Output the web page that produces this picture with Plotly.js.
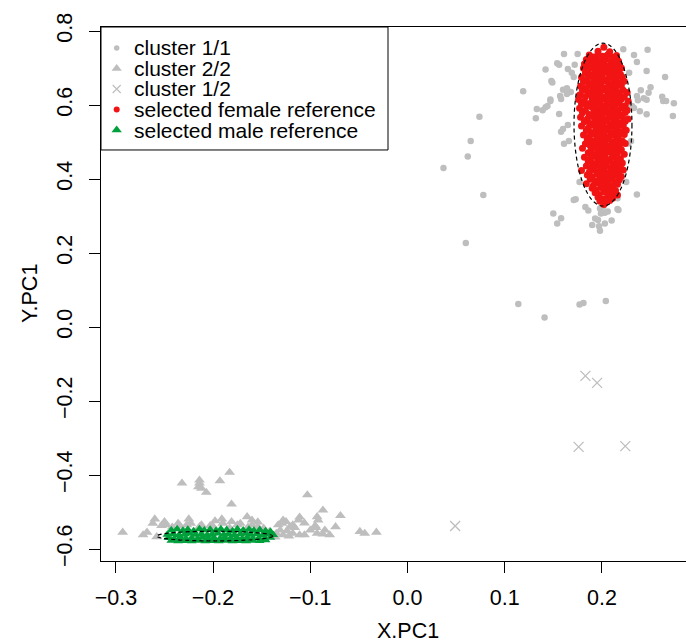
<!DOCTYPE html>
<html>
<head>
<meta charset="utf-8">
<script src="https://cdn.plot.ly/plotly-3.0.1.min.js"></script>
<style>
  html, body { margin: 0; padding: 0; overflow: hidden; background: #fff; width: 686px; height: 644px; }
  #plot { width: 714px; height: 644px; }
</style>
</head>
<body>
<div id="plot"></div>
<script>
// ---- data: first principal components of X and Y ----
const cluster11X = [0.037, 0.065, 0.062, 0.074, 0.078, 0.060, 0.114, 0.141, 0.177, 0.181,
  0.204, 0.119, 0.125, 0.150, 0.158, 0.154, 0.171, 0.173, 0.177, 0.161,
  0.166, 0.160, 0.158, 0.165, 0.156, 0.133, 0.132, 0.139, 0.142, 0.144,
  0.147, 0.147, 0.157, 0.158, 0.160, 0.164, 0.168, 0.164, 0.148, 0.149,
  0.142, 0.154, 0.156, 0.161, 0.175, 0.165, 0.169, 0.171, 0.172, 0.222,
  0.247, 0.233, 0.236, 0.246, 0.228, 0.265, 0.240, 0.250, 0.248, 0.243,
  0.246, 0.236, 0.237, 0.262, 0.263, 0.266, 0.274, 0.231, 0.233, 0.239,
  0.246, 0.273, 0.230, 0.227, 0.236, 0.225, 0.216, 0.183, 0.186, 0.190,
  0.197, 0.198, 0.193, 0.196, 0.199, 0.198, 0.201, 0.203, 0.206, 0.203,
  0.210, 0.216, 0.217];
const cluster11Y = [0.430, 0.503, 0.461, 0.568, 0.357, 0.227, 0.062, 0.026, 0.061, 0.065,
  0.070, 0.637, 0.500, 0.307, 0.294, 0.280, 0.343, 0.345, 0.392, 0.495,
  0.503, 0.535, 0.528, 0.546, 0.576, 0.589, 0.564, 0.586, 0.594, 0.597,
  0.615, 0.611, 0.624, 0.616, 0.641, 0.645, 0.635, 0.630, 0.665, 0.661,
  0.696, 0.713, 0.709, 0.738, 0.738, 0.697, 0.687, 0.676, 0.709, 0.751,
  0.749, 0.735, 0.716, 0.692, 0.687, 0.676, 0.640, 0.648, 0.633, 0.618,
  0.614, 0.624, 0.613, 0.622, 0.611, 0.611, 0.605, 0.597, 0.592, 0.583,
  0.575, 0.570, 0.503, 0.496, 0.358, 0.392, 0.348, 0.324, 0.315, 0.276,
  0.272, 0.260, 0.293, 0.289, 0.307, 0.320, 0.325, 0.309, 0.312, 0.280,
  0.288, 0.319, 0.316];

const cluster22X = [-0.293, -0.272, -0.268, -0.260, -0.262, -0.250, -0.248, -0.253, -0.258, -0.232,
  -0.214, -0.214, -0.215, -0.212, -0.207, -0.193, -0.183, -0.181, -0.236, -0.234,
  -0.225, -0.223, -0.227, -0.212, -0.214, -0.203, -0.200, -0.191, -0.190, -0.181,
  -0.175, -0.172, -0.165, -0.160, -0.160, -0.154, -0.148, -0.142, -0.103, -0.087,
  -0.069, -0.093, -0.092, -0.111, -0.112, -0.128, -0.125, -0.129, -0.133, -0.118,
  -0.116, -0.121, -0.074, -0.095, -0.094, -0.131, -0.124, -0.135, -0.118, -0.128,
  -0.111, -0.106, -0.093, -0.087, -0.080, -0.049, -0.044, -0.032, -0.142, -0.100,
  -0.085, -0.106, -0.122, -0.136, -0.147, -0.242, -0.183, -0.164, -0.154, -0.198];
const cluster22Y = [-0.555, -0.562, -0.555, -0.519, -0.531, -0.526, -0.535, -0.537, -0.567, -0.422,
  -0.414, -0.422, -0.432, -0.436, -0.447, -0.416, -0.393, -0.479, -0.531, -0.538,
  -0.519, -0.531, -0.535, -0.535, -0.540, -0.537, -0.539, -0.519, -0.531, -0.526,
  -0.535, -0.531, -0.513, -0.535, -0.522, -0.540, -0.544, -0.553, -0.454, -0.495,
  -0.510, -0.513, -0.522, -0.514, -0.522, -0.522, -0.526, -0.531, -0.535, -0.535,
  -0.542, -0.540, -0.540, -0.537, -0.542, -0.549, -0.551, -0.558, -0.558, -0.562,
  -0.562, -0.562, -0.558, -0.560, -0.562, -0.553, -0.558, -0.555, -0.565, -0.549,
  -0.549, -0.530, -0.565, -0.568, -0.549, -0.541, -0.543, -0.541, -0.527, -0.524];

const cluster12X = [0.049, 0.183, 0.195, 0.176, 0.224];
const cluster12Y = [-0.538, -0.132, -0.151, -0.324, -0.322];

const femaleX = [
  0.202, 0.196, 0.208,
  0.187, 0.191, 0.196, 0.201, 0.206, 0.211, 0.215,
  0.184, 0.189, 0.194, 0.199, 0.204, 0.209, 0.213, 0.217,
  0.182, 0.187, 0.192, 0.197, 0.202, 0.207, 0.212, 0.218,
  0.181, 0.186, 0.191, 0.196, 0.201, 0.206, 0.211, 0.216, 0.220,
  0.183, 0.188, 0.193, 0.198, 0.203, 0.208, 0.213, 0.219,
  0.179, 0.185, 0.190, 0.195, 0.200, 0.205, 0.210, 0.215, 0.221,
  0.181, 0.187, 0.192, 0.197, 0.202, 0.207, 0.212, 0.218, 0.223,
  0.178, 0.184, 0.189, 0.194, 0.199, 0.204, 0.209, 0.214, 0.220,
  0.180, 0.186, 0.191, 0.196, 0.201, 0.206, 0.211, 0.216, 0.222, 0.226,
  0.177, 0.183, 0.188, 0.193, 0.198, 0.203, 0.208, 0.213, 0.218, 0.223,
  0.176, 0.182, 0.190, 0.195, 0.200, 0.205, 0.210, 0.215, 0.220, 0.227,
  0.179, 0.185, 0.188, 0.193, 0.198, 0.203, 0.208, 0.213, 0.218, 0.224,
  0.177, 0.183, 0.190, 0.195, 0.200, 0.205, 0.210, 0.216, 0.221, 0.226,
  0.180, 0.187, 0.192, 0.197, 0.202, 0.207, 0.212, 0.218, 0.224,
  0.178, 0.185, 0.190, 0.195, 0.200, 0.205, 0.210, 0.215, 0.221, 0.227,
  0.182, 0.188, 0.193, 0.198, 0.203, 0.208, 0.213, 0.219, 0.224,
  0.179, 0.186, 0.191, 0.196, 0.201, 0.206, 0.211, 0.216, 0.222,
  0.184, 0.189, 0.194, 0.199, 0.204, 0.209, 0.214, 0.220, 0.225,
  0.181, 0.187, 0.192, 0.197, 0.202, 0.207, 0.212, 0.217, 0.223,
  0.185, 0.190, 0.195, 0.200, 0.205, 0.210, 0.215, 0.221,
  0.183, 0.188, 0.193, 0.198, 0.203, 0.208, 0.213, 0.218, 0.224,
  0.180, 0.189, 0.194, 0.199, 0.204, 0.209, 0.214, 0.220,
  0.186, 0.191, 0.196, 0.201, 0.206, 0.211, 0.216, 0.223,
  0.182, 0.188, 0.193, 0.198, 0.203, 0.208, 0.213, 0.219,
  0.186, 0.191, 0.196, 0.201, 0.206, 0.211, 0.216, 0.221,
  0.184, 0.189, 0.194, 0.199, 0.204, 0.209, 0.214, 0.219,
  0.179, 0.187, 0.192, 0.197, 0.202, 0.207, 0.212, 0.217, 0.222,
  0.185, 0.190, 0.195, 0.200, 0.205, 0.210, 0.215, 0.220,
  0.188, 0.193, 0.198, 0.203, 0.208, 0.213, 0.218,
  0.184, 0.191, 0.196, 0.201, 0.206, 0.211, 0.216,
  0.190, 0.194, 0.199, 0.204, 0.209, 0.214,
  0.193, 0.197, 0.202, 0.207, 0.212, 0.216,
  0.196, 0.201, 0.206, 0.211,
  0.198, 0.203, 0.208,
  0.202];
const femaleY = [
  0.756, 0.745, 0.744,
  0.735, 0.730, 0.737, 0.732, 0.736, 0.729, 0.734,
  0.723, 0.718, 0.725, 0.720, 0.724, 0.717, 0.722, 0.719,
  0.711, 0.706, 0.713, 0.708, 0.712, 0.705, 0.710, 0.707,
  0.699, 0.694, 0.701, 0.696, 0.700, 0.693, 0.698, 0.695, 0.700,
  0.687, 0.682, 0.689, 0.684, 0.688, 0.681, 0.686, 0.683,
  0.675, 0.670, 0.677, 0.672, 0.676, 0.669, 0.674, 0.671, 0.676,
  0.663, 0.658, 0.665, 0.660, 0.664, 0.657, 0.662, 0.659, 0.664,
  0.651, 0.646, 0.653, 0.648, 0.652, 0.645, 0.650, 0.647, 0.652,
  0.639, 0.634, 0.641, 0.636, 0.640, 0.633, 0.638, 0.635, 0.640, 0.634,
  0.627, 0.622, 0.629, 0.624, 0.628, 0.621, 0.626, 0.623, 0.628, 0.622,
  0.615, 0.610, 0.617, 0.612, 0.616, 0.609, 0.614, 0.611, 0.616, 0.610,
  0.603, 0.598, 0.605, 0.600, 0.604, 0.597, 0.602, 0.599, 0.604, 0.598,
  0.591, 0.586, 0.593, 0.588, 0.592, 0.585, 0.590, 0.587, 0.592, 0.586,
  0.579, 0.574, 0.581, 0.576, 0.580, 0.573, 0.578, 0.575, 0.580,
  0.567, 0.562, 0.569, 0.564, 0.568, 0.561, 0.566, 0.563, 0.568, 0.562,
  0.555, 0.550, 0.557, 0.552, 0.556, 0.549, 0.554, 0.551, 0.556,
  0.543, 0.538, 0.545, 0.540, 0.544, 0.537, 0.542, 0.539, 0.544,
  0.531, 0.526, 0.533, 0.528, 0.532, 0.525, 0.530, 0.527, 0.532,
  0.519, 0.514, 0.521, 0.516, 0.520, 0.513, 0.518, 0.515, 0.520,
  0.507, 0.502, 0.509, 0.504, 0.508, 0.501, 0.506, 0.503,
  0.495, 0.490, 0.497, 0.492, 0.496, 0.489, 0.494, 0.491, 0.496,
  0.483, 0.478, 0.485, 0.480, 0.484, 0.477, 0.482, 0.479,
  0.471, 0.466, 0.473, 0.468, 0.472, 0.465, 0.470, 0.467,
  0.459, 0.454, 0.461, 0.456, 0.460, 0.453, 0.458, 0.455,
  0.447, 0.442, 0.449, 0.444, 0.448, 0.441, 0.446, 0.443,
  0.435, 0.430, 0.437, 0.432, 0.436, 0.429, 0.434, 0.431,
  0.423, 0.418, 0.425, 0.420, 0.424, 0.417, 0.422, 0.419, 0.424,
  0.411, 0.406, 0.413, 0.408, 0.412, 0.405, 0.410, 0.407,
  0.399, 0.394, 0.401, 0.396, 0.400, 0.393, 0.398,
  0.387, 0.382, 0.389, 0.384, 0.388, 0.381, 0.386,
  0.375, 0.370, 0.377, 0.372, 0.376, 0.369,
  0.363, 0.358, 0.365, 0.360, 0.364, 0.357,
  0.351, 0.346, 0.353, 0.348,
  0.340, 0.335, 0.342,
  0.331];

const maleX = [
  -0.243, -0.237, -0.231, -0.226, -0.220, -0.214, -0.209, -0.203, -0.197, -0.192,
  -0.186, -0.180, -0.175, -0.169, -0.163, -0.158, -0.152, -0.146, -0.141,
  -0.247, -0.241, -0.235, -0.229, -0.224, -0.218, -0.212, -0.206, -0.201, -0.195,
  -0.189, -0.184, -0.178, -0.172, -0.166, -0.161, -0.155, -0.149, -0.143, -0.138,
  -0.246, -0.240, -0.234, -0.228, -0.222, -0.216, -0.211, -0.205, -0.199, -0.193,
  -0.188, -0.182, -0.176, -0.170, -0.165, -0.159, -0.153, -0.147, -0.141,
  -0.243, -0.236, -0.229, -0.222, -0.215, -0.208, -0.201, -0.194, -0.187, -0.180,
  -0.173, -0.166, -0.159, -0.152, -0.146];
const maleY = [
  -0.549, -0.546, -0.550, -0.547, -0.551, -0.546, -0.549, -0.547, -0.550, -0.546,
  -0.548, -0.551, -0.546, -0.549, -0.547, -0.550, -0.548, -0.551, -0.553,
  -0.561, -0.559, -0.562, -0.560, -0.558, -0.561, -0.559, -0.562, -0.560, -0.558,
  -0.561, -0.559, -0.562, -0.560, -0.558, -0.561, -0.559, -0.562, -0.560, -0.562,
  -0.570, -0.572, -0.569, -0.571, -0.570, -0.572, -0.569, -0.571, -0.570, -0.572,
  -0.569, -0.571, -0.570, -0.572, -0.569, -0.571, -0.570, -0.572, -0.569,
  -0.577, -0.579, -0.578, -0.579, -0.577, -0.579, -0.578, -0.579, -0.577, -0.579,
  -0.578, -0.579, -0.577, -0.578, -0.576];

// dashed reference ellipses: [centre x, centre y, half-width, half-height]
const femaleEllipse = [0.2011, 0.547, 0.0298, 0.220];
const maleEllipse = [-0.1984, -0.565, 0.0597, 0.0131];

const xTicks = [-0.3, -0.2, -0.1, 0.0, 0.1, 0.2];
const yTicks = [-0.6, -0.4, -0.2, 0.0, 0.2, 0.4, 0.6, 0.8];
const legendLabels = ['cluster 1/1', 'cluster 2/2', 'cluster 1/2',
  'selected female reference', 'selected male reference'];

// ---- styling ----
const FONT = 'Liberation Sans, Arial, Helvetica, sans-serif';
const GREY = '#BEBEBE';
const RED = '#F21414';
const GREEN = '#00A03C';

const styles = [
  {symbol: 'circle', size: 6.5, color: GREY},
  {symbol: 'triangle-up', size: 9.5, color: GREY},
  {symbol: 'x-thin-open', size: 10, color: GREY, line: {color: GREY, width: 1.3}},
  {symbol: 'circle', size: 7, color: RED},
  {symbol: 'triangle-up', size: 8.5, color: GREEN}
];
const keyStyles = [
  {symbol: 'circle', size: 5.5, color: GREY},
  {symbol: 'triangle-up', size: 9, color: GREY},
  {symbol: 'x-thin-open', size: 8, color: GREY, line: {color: GREY, width: 1.2}},
  {symbol: 'circle', size: 6, color: RED},
  {symbol: 'triangle-up', size: 9, color: GREEN}
];

const series = [
  [cluster11X, cluster11Y],
  [cluster22X, cluster22Y],
  [cluster12X, cluster12Y],
  [femaleX, femaleY],
  [maleX, maleY]
];

const traces = series.map((s, i) => ({
  type: 'scatter', mode: 'markers', x: s[0], y: s[1],
  name: legendLabels[i], marker: styles[i], hoverinfo: 'skip', showlegend: false
}));

// legend box drawn in plot-fraction coordinates on a hidden overlay subplot
const keyRowY = [0.9607, 0.9223, 0.8839, 0.8455, 0.8071];
const keyX = 0.0256;
const textX = 0.0501;
keyStyles.forEach((st, i) => {
  traces.push({
    type: 'scatter', mode: 'markers', x: [keyX], y: [keyRowY[i]],
    xaxis: 'x2', yaxis: 'y2', marker: st, hoverinfo: 'skip', showlegend: false
  });
});

const ellipseShape = (e) => ({
  type: 'circle', xref: 'x', yref: 'y', layer: 'above',
  x0: e[0] - e[2], x1: e[0] + e[2], y0: e[1] - e[3], y1: e[1] + e[3],
  line: {color: '#000', width: 1.2, dash: '4px,3px'}
});

const annotations = legendLabels.map((t, i) => ({
  text: t, xref: 'paper', yref: 'paper', x: textX, y: keyRowY[i],
  xanchor: 'left', yanchor: 'middle', showarrow: false,
  font: {family: FONT, size: 21, color: '#000'}
}));
annotations.push({
  text: 'X.PC1', xref: 'paper', yref: 'paper', x: 0.5, y: -0.131,
  xanchor: 'center', yanchor: 'middle', showarrow: false,
  font: {family: FONT, size: 21.5, color: '#000'}
});
annotations.push({
  text: 'Y.PC1', xref: 'paper', yref: 'paper', x: -0.1158, y: 0.5,
  xanchor: 'center', yanchor: 'middle', showarrow: false, textangle: -90,
  font: {family: FONT, size: 21.5, color: '#000'}
});

const axisCommon = {
  showgrid: false, zeroline: false, showline: true, mirror: true,
  linecolor: '#000', linewidth: 1, ticks: 'outside', ticklen: 11,
  tickwidth: 1, tickcolor: '#000', tickformat: '.1f',
  tickfont: {family: FONT, size: 21.5, color: '#000'}, fixedrange: true
};

const layout = {
  width: 714, height: 644,
  margin: {l: 101, r: 0, t: 27, b: 83},
  paper_bgcolor: '#fff', plot_bgcolor: '#fff',
  showlegend: false,
  xaxis: Object.assign({}, axisCommon, {
    range: [-0.3153, 0.3153], tickmode: 'array', tickvals: xTicks, ticklabelstandoff: 6
  }),
  yaxis: Object.assign({}, axisCommon, {
    range: [-0.6324, 0.8108], tickmode: 'array', tickvals: yTicks, tickangle: -90,
    ticklabelstandoff: 8
  }),
  xaxis2: {overlaying: 'x', range: [0, 1], visible: false, fixedrange: true},
  yaxis2: {overlaying: 'y', range: [0, 1], visible: false, fixedrange: true},
  shapes: [
    ellipseShape(femaleEllipse),
    ellipseShape(maleEllipse),
    {type: 'rect', xref: 'paper', yref: 'paper', x0: 0, x1: 0.4682, y0: 0.7697, y1: 1,
     line: {color: '#000', width: 1}, layer: 'above'}
  ],
  annotations: annotations
};

Plotly.newPlot('plot', traces, layout, {staticPlot: true, displayModeBar: false});
</script>
</body>
</html>
